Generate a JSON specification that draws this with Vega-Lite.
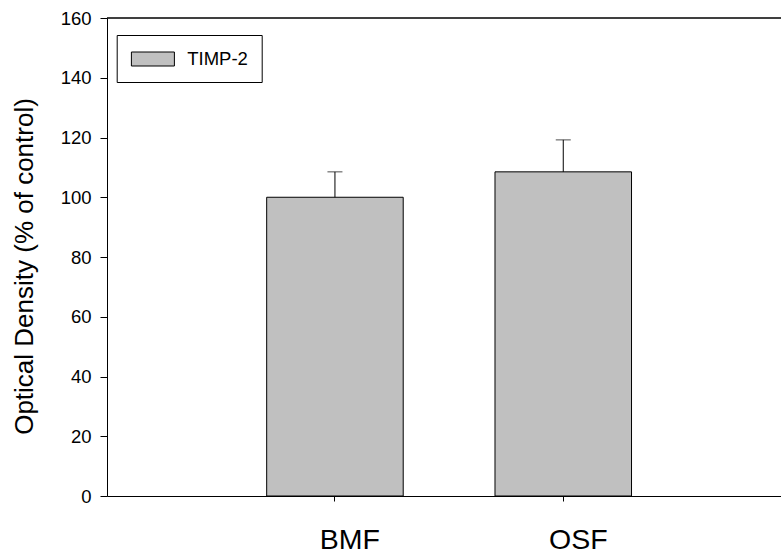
{
  "$schema": "https://vega.github.io/schema/vega-lite/v6.json",
  "width": 674,
  "height": 478,
  "autosize": {"type": "none"},
  "padding": {"left": 107, "top": 18, "right": 0, "bottom": 60},
  "background": "white",
  "config": {
    "view": {"stroke": null},
    "font": "Liberation Sans",
    "axis": {"domainColor": "black", "tickColor": "black", "labelColor": "black", "titleColor": "black", "grid": false, "domainWidth": 1, "tickWidth": 1}
  },
  "data": {
    "values": [
      {"group": "BMF", "value": 100, "upper": 108.5, "series": "TIMP-2"},
      {"group": "OSF", "value": 108.5, "upper": 119.2, "series": "TIMP-2"}
    ]
  },
  "layer": [
    {
      "mark": {"type": "bar", "stroke": "black", "strokeWidth": 1},
      "encoding": {
        "x": {
          "field": "group", "type": "nominal",
          "scale": {"type": "band", "domain": ["BMF", "OSF"], "paddingInner": 0.402, "paddingOuter": 0.677, "align": 0.5165},
          "axis": {"title": null, "labelAngle": 0, "labelFontSize": 28.5, "labelOffset": 15, "labelPadding": 24, "labelBaseline": "top", "tickSize": 5}
        },
        "y": {
          "field": "value", "type": "quantitative",
          "scale": {"domain": [0, 160], "nice": false},
          "axis": {"title": "Optical Density (% of control)", "values": [0, 20, 40, 60, 80, 100, 120, 140, 160], "labelFontSize": 18.5, "labelPadding": 9, "tickSize": 7, "titleFontSize": 26, "titleFontWeight": "normal", "titleAngle": 270, "titleX": -75, "titleY": 248, "titleAlign": "center", "titleBaseline": "alphabetic"}
        },
        "color": {
          "field": "series", "type": "nominal",
          "scale": {"range": ["#c0c0c0"]},
          "legend": {
            "title": null, "orient": "none", "legendX": 9.7, "legendY": 17,
            "strokeColor": "black", "fillColor": "white", "padding": 13.5,
            "symbolType": "M-2.15,-0.7H2.15V0.7H-2.15Z", "symbolSize": 400,
            "symbolStrokeColor": "black", "symbolStrokeWidth": 1, "symbolOpacity": 1,
            "symbolOffset": 12.2, "labelOffset": 23.8, "labelFontSize": 18.5, "labelColor": "black"
          }
        }
      }
    },
    {
      "mark": {"type": "rule", "color": "black", "strokeWidth": 1},
      "encoding": {
        "x": {"field": "group", "type": "nominal"},
        "y": {"field": "value", "type": "quantitative"},
        "y2": {"field": "upper"}
      }
    },
    {
      "mark": {"type": "tick", "color": "black", "thickness": 1, "size": 15, "orient": "horizontal"},
      "encoding": {
        "x": {"field": "group", "type": "nominal"},
        "y": {"field": "upper", "type": "quantitative"}
      }
    },
    {
      "mark": {"type": "rule", "color": "black", "strokeWidth": 1},
      "encoding": {
        "y": {"datum": 160, "type": "quantitative"}
      }
    }
  ]
}
